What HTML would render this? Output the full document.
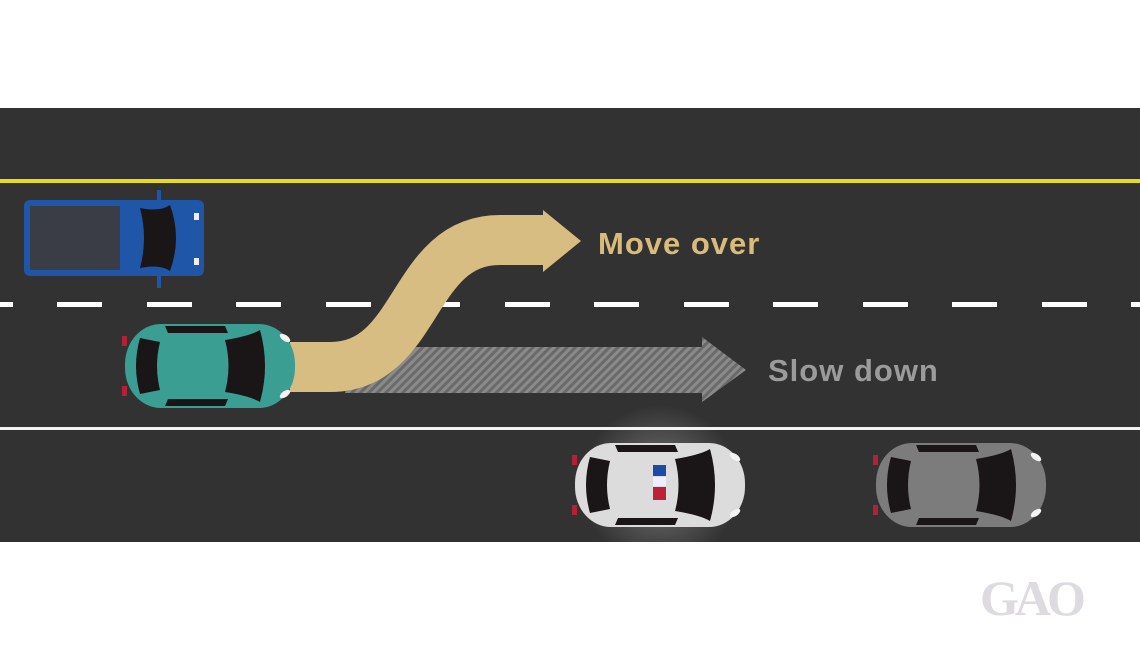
<!DOCTYPE html>
<html><head><style>
html,body{margin:0;padding:0;background:#fff;width:1140px;height:652px;overflow:hidden}
</style></head><body>
<svg width="1140" height="652" viewBox="0 0 1140 652" xmlns="http://www.w3.org/2000/svg">
<defs>
<pattern id="hatch" width="6" height="6" patternUnits="userSpaceOnUse" patternTransform="rotate(45)">
<rect width="6" height="6" fill="#6a6a6a"/><rect width="3" height="6" fill="#8a8a8a"/>
</pattern>
<radialGradient id="glow"><stop offset="0" stop-color="#ffffff" stop-opacity="0.35"/><stop offset="1" stop-color="#ffffff" stop-opacity="0"/></radialGradient>
<g id="car">
<rect x="-85" y="-42" width="170" height="84" rx="36" ry="40"/>
<path d="M-70,-28 Q-78,0 -70,28 L-50,24 Q-56,0 -50,-24 Z" fill="#1a1517"/>
<path d="M15,-26 Q40,-30 50,-36 Q60,0 50,36 Q40,30 15,26 Q22,0 15,-26Z" fill="#1a1517"/>
<path d="M-45,-40 L15,-40 L18,-33 L-42,-33Z" fill="#1a1517"/>
<path d="M-45,40 L15,40 L18,33 L-42,33Z" fill="#1a1517"/>
<ellipse cx="75" cy="-28" rx="6" ry="3" fill="#f4f4f4" transform="rotate(35 75 -28)"/>
<ellipse cx="75" cy="28" rx="6" ry="3" fill="#f4f4f4" transform="rotate(-35 75 28)"/>
<rect x="-88" y="-30" width="5" height="10" fill="#b3203a"/>
<rect x="-88" y="20" width="5" height="10" fill="#b3203a"/>
</g>
</defs>
<rect x="0" y="108" width="1140" height="434" fill="#333233"/>
<rect x="0" y="179" width="1140" height="4" fill="#e6dc1a"/>
<g fill="#fff">
<rect x="-32" y="302" width="45" height="5"/>
<rect x="57" y="302" width="45" height="5"/><rect x="147" y="302" width="45" height="5"/>
<rect x="236" y="302" width="45" height="5"/><rect x="326" y="302" width="45" height="5"/>
<rect x="415" y="302" width="45" height="5"/><rect x="505" y="302" width="45" height="5"/>
<rect x="594" y="302" width="45" height="5"/><rect x="684" y="302" width="45" height="5"/>
<rect x="773" y="302" width="45" height="5"/><rect x="863" y="302" width="45" height="5"/>
<rect x="952" y="302" width="45" height="5"/><rect x="1042" y="302" width="45" height="5"/>
<rect x="1131" y="302" width="45" height="5"/>
</g>
<rect x="0" y="427" width="1140" height="3" fill="#f2f2f2"/>

<path d="M345,347 L702,347 L702,337 L746,370 L702,402 L702,393 L345,393 Z" fill="url(#hatch)"/>
<path d="M290,367 L330,367 C420,367 410,240 500,240 L545,240" fill="none" stroke="#d7bd82" stroke-width="50"/>
<path d="M543,210 L581,241 L543,272 Z" fill="#d7bd82"/>

<text x="598" y="254" font-family="Liberation Sans, sans-serif" font-weight="bold" font-size="31" letter-spacing="1" fill="#d9bc7c">Move over</text>
<text x="768" y="381" font-family="Liberation Sans, sans-serif" font-weight="bold" font-size="31" letter-spacing="1" fill="#9b9b9b">Slow down</text>

<g>
<rect x="24" y="200" width="180" height="76" rx="6" fill="#1f56a8"/>
<rect x="30" y="206" width="90" height="64" fill="#3a3d45"/>
<path d="M140,208 Q160,212 170,205 Q182,238 170,271 Q160,264 140,268 Q148,238 140,208Z" fill="#1a1517"/>
<rect x="194" y="213" width="5" height="7" fill="#eee"/><rect x="194" y="258" width="5" height="7" fill="#eee"/>
<rect x="157" y="190" width="4" height="14" fill="#1f56a8"/><rect x="157" y="272" width="4" height="16" fill="#1f56a8"/>
</g>
<use href="#car" x="210" y="366" fill="#3a9e92"/>
<circle cx="660" cy="485" r="80" fill="url(#glow)"/>
<use href="#car" x="660" y="485" fill="#dcdcdc"/>
<rect x="653" y="465" width="13" height="11" fill="#1d4aa6"/>
<rect x="653" y="477" width="13" height="9" fill="#eef"/>
<rect x="653" y="487" width="13" height="13" fill="#c01f3a"/>
<use href="#car" x="961" y="485" fill="#7c7c7c"/>

<text x="980" y="615" font-family="Liberation Serif, serif" font-weight="bold" font-size="50" fill="#dddbe0" letter-spacing="-4">GAO</text>
</svg>
</body></html>
